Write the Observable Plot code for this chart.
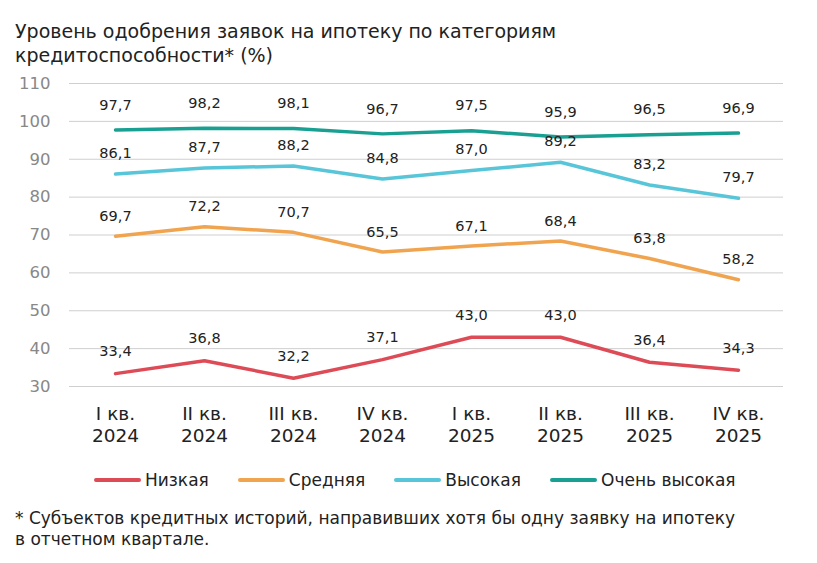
<!DOCTYPE html>
<html lang="ru">
<head>
<meta charset="utf-8">
<script src="https://cdn.jsdelivr.net/npm/d3@7"></script>
<script src="https://cdn.jsdelivr.net/npm/@observablehq/plot@0.6"></script>
<style>
  html, body { margin: 0; padding: 0; background: #fff; }
  body { width: 817px; height: 563px; position: relative; font-family: "DejaVu Sans", sans-serif; color: #222; overflow: hidden; }
  .title { position: absolute; left: 15px; top: 19px; font-size: 19px; line-height: 24px; color: #222; }
  #chart { position: absolute; left: 0; top: 72px; }
  .legend { position: absolute; left: 94px; top: 468px; height: 24px; display: flex; align-items: center; font-size: 17px; line-height: 24px; color: #222; }
  .legend .item { display: flex; align-items: center; margin-right: 29px; }
  .legend .sw { width: 47px; height: 4px; border-radius: 2px; margin-right: 4px; }
  .note { position: absolute; left: 15px; top: 508px; font-size: 17px; line-height: 21px; color: #222; }
</style>
</head>
<body>
<div class="title">Уровень одобрения заявок на ипотеку по категориям<br>кредитоспособности* (%)</div>
<div id="chart"></div>
<div class="legend" id="legend"></div>
<div class="note">* Субъектов кредитных историй, направивших хотя бы одну заявку на ипотеку<br>в отчетном квартале.</div>
<script>
// Quarters on the x axis (two-line labels)
const quarters = ["I кв.\n2024", "II кв.\n2024", "III кв.\n2024", "IV кв.\n2024",
                  "I кв.\n2025", "II кв.\n2025", "III кв.\n2025", "IV кв.\n2025"];

// Approval rate by creditworthiness category, %
const seriesNames = ["Низкая", "Средняя", "Высокая", "Очень высокая"];
const low      = [33.4, 36.8, 32.2, 37.1, 43.0, 43.0, 36.4, 34.3];
const medium   = [69.7, 72.2, 70.7, 65.5, 67.1, 68.4, 63.8, 58.2];
const high     = [86.1, 87.7, 88.2, 84.8, 87.0, 89.2, 83.2, 79.7];
const veryHigh = [97.7, 98.2, 98.1, 96.7, 97.5, 95.9, 96.5, 96.9];

const yTicks = [30, 40, 50, 60, 70, 80, 90, 100, 110];
const colors = ["#dd4b56", "#f0a44f", "#58c6d8", "#19a092"];

const values = [low, medium, high, veryHigh];
const rows = seriesNames.flatMap((name, i) =>
  quarters.map((q, j) => ({series: name, quarter: q, value: values[i][j]})));

const font = "DejaVu Sans, sans-serif";
const fmt = v => v.toFixed(1).replace(".", ",");
const labelDy = {"Низкая": -22, "Средняя": -20, "Высокая": -21, "Очень высокая": -25};

const chart = Plot.plot({
  width: 817,
  height: 379,
  marginLeft: 69,
  marginRight: 34,
  marginTop: 11,
  marginBottom: 65,
  style: {fontFamily: font, background: "transparent"},
  x: {type: "point", domain: quarters, padding: 0.5},
  y: {domain: [30, 110]},
  color: {domain: seriesNames, range: colors},
  marks: [
    Plot.gridY(yTicks, {stroke: "#cfcfcf", strokeOpacity: 1, strokeWidth: 1}),
    Plot.axisY(yTicks, {tickSize: 0, tickPadding: 19, fontSize: 16.5, fontFamily: font, fill: "#888", label: null}),
    Plot.axisX({tickSize: 0, tickPadding: 17, fontSize: 18.5, fontFamily: font, fill: "#222", lineHeight: 1.22, label: null}),
    Plot.line(rows, {x: "quarter", y: "value", z: "series", stroke: "series", strokeWidth: 3.5}),
    ...seriesNames.map(name =>
      Plot.text(rows.filter(d => d.series === name), {
        x: "quarter", y: "value", text: d => fmt(d.value),
        dy: labelDy[name], fontSize: 14.5, fontFamily: font, fill: "#222"
      }))
  ]
});
document.getElementById("chart").appendChild(chart);

// Legend with line swatches
const legend = document.getElementById("legend");
seriesNames.forEach((name, i) => {
  const item = document.createElement("div");
  item.className = "item";
  const sw = document.createElement("span");
  sw.className = "sw";
  sw.style.background = colors[i];
  const label = document.createElement("span");
  label.textContent = name;
  item.append(sw, label);
  legend.appendChild(item);
});
</script>
</body>
</html>
